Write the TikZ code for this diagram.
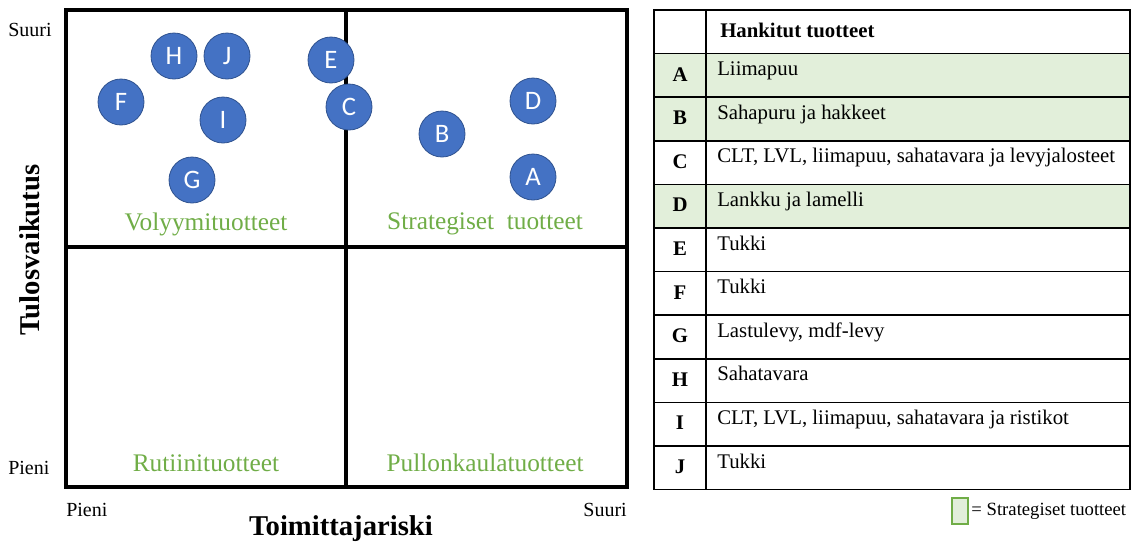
\documentclass[tikz,border=0pt]{standalone}
\usepackage{fontspec}
\setmainfont{Liberation Serif}
\newfontfamily\pallofont{Carlito}
\usetikzlibrary{positioning}

\definecolor{pallosin}{HTML}{4472C4}
\definecolor{palloreuna}{HTML}{2F528F}
\definecolor{strvihrea}{HTML}{70AD47}
\definecolor{strtausta}{HTML}{E2EFDA}

\begin{document}
\begin{tikzpicture}[x=0.75pt, y=-0.75pt, node distance=2pt]
	\tikzstyle{tuote} = [circle, fill=pallosin, draw=palloreuna, semithick, minimum size=34.5pt, inner sep=0pt, text=white, font=\pallofont\fontsize{20}{20}\selectfont]
	\tikzstyle{lohko} = [text=strvihrea, font=\fontsize{19}{20}\selectfont]
	\tikzstyle{asteikko} = [font=\fontsize{15}{16}\selectfont, inner sep=0pt]
	\tikzstyle{akseli} = [font=\bfseries\fontsize{21.5}{23}\selectfont, inner sep=0pt]
	\tikzstyle{solu} = [font=\fontsize{15.6}{16}\selectfont, inner sep=0pt]

	\useasboundingbox (0,0) rectangle (1137,544);

	% nelikentta
	\draw[line width=2.4pt] (66,10) rectangle (627,487);
	\draw[line width=2.4pt] (346,10) -- (346,487) (66,247) -- (627,247);

	\node[lohko] (volyymi) at (206,224) {Volyymituotteet};
	\node[lohko] (strateg) at (485,224) {Strategiset\ \ tuotteet};
	\node[lohko] (rutiini) at (206,463) {Rutiinituotteet};
	\node[lohko] (pullon) at (485,463) {Pullonkaulatuotteet};

	\node[asteikko, anchor=west] (ysuuri) at (8,30) {Suuri};
	\node[asteikko, anchor=west] (ypieni) at (8,468) {Pieni};
	\node[asteikko, anchor=west] (xpieni) at (66,510) {Pieni};
	\node[asteikko, anchor=east] (xsuuri) at (627,510) {Suuri};
	\node[akseli] (xnimi) at (341,529) {Toimittajariski};
	\node[akseli, rotate=90] (ynimi) at (30,250) {Tulosvaikutus};

	% tuotteet
	\node[tuote] (H) at (174,56) {H};
	\node[tuote] (J) at (227,56) {J};
	\node[tuote] (F) at (121,102) {F};
	\node[tuote] (I) at (223,120) {I};
	\node[tuote] (G) at (192,180) {G};
	\node[tuote] (E) at (331,60) {E};
	\node[tuote] (C) at (349,107) {C};
	\node[tuote] (B) at (442,134) {B};
	\node[tuote] (D) at (533,101) {D};
	\node[tuote] (A) at (533,177) {A};

	% taulukko
	\foreach \k/\kirjain/\teksti/\tausta in {
		1/A/Liimapuu/strtausta,
		2/B/Sahapuru ja hakkeet/strtausta,
		3/C/{CLT, LVL, liimapuu, sahatavara ja levyjalosteet}/white,
		4/D/Lankku ja lamelli/strtausta,
		5/E/Tukki/white,
		6/F/Tukki/white,
		7/G/{Lastulevy, mdf-levy}/white,
		8/H/Sahatavara/white,
		9/I/{CLT, LVL, liimapuu, sahatavara ja ristikot}/white,
		10/J/Tukki/white}
	{
		\fill[\tausta] (654,10+43.6*\k) rectangle (1130,53.6+43.6*\k);
		\draw[line width=1.2pt] (654,10+43.6*\k) -- (1130,10+43.6*\k);
		\node[solu, font=\bfseries\fontsize{15.6}{16}\selectfont, anchor=base] (tunnus\k) at (680,37.5+43.6*\k) {\kirjain};
		\node[solu, anchor=base west] (tuote\k) at (717,32+43.6*\k) {\teksti};
	}
	\node[solu, font=\bfseries\fontsize{15.6}{16}\selectfont, anchor=base west] (otsikko) at (720,37) {Hankitut tuotteet};
	\draw[line width=1.2pt] (654,10) rectangle (1130,489.6);
	\draw[line width=1.2pt] (706,10) -- (706,489.6);

	% selite
	\node[draw=strvihrea, fill=strtausta, thick, minimum width=12pt, minimum height=19.5pt, inner sep=0pt] (selite) at (960,511) {};
	\node[solu, font=\fontsize{14}{15}\selectfont, right=2pt of selite] (selteksti) {= Strategiset tuotteet};
\end{tikzpicture}
\end{document}
